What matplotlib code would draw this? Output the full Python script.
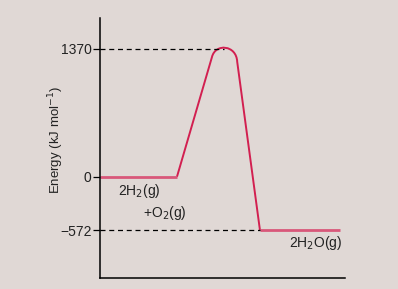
import numpy as np
import matplotlib.pyplot as plt
from matplotlib.path import Path
from matplotlib.patches import PathPatch

plt.rcParams['font.family'] = ['Liberation Sans', 'DejaVu Sans']

# energy levels (kJ/mol)
e_react = 0
e_peak = 1370
e_prod = -572
tick_vals = [1370, 0, -572]
tick_labels = ['1370', '0', '\u2212572']

# reaction coordinate positions
x_start, x_rise, x_fall, x_end = 0, 3.14, 6.53, 9.8
x_shl, x_top, x_shr = 4.57, 5.08, 5.6
e_shl, e_shr = 1280, 1230

bg = '#e0d8d5'
flat_col = '#d9577a'
slope_col = '#d21f50'

fig = plt.figure(figsize=(3.98, 2.89), dpi=100, facecolor=bg)
ax = fig.add_axes([100/398, 11/289, 245/398, 260/289])
ax.set_facecolor(bg)
ax.set_xlim(0, 10)
ax.set_ylim(-1080, 1697)

# flat levels
ax.plot([x_start, x_rise], [e_react, e_react], color=flat_col, lw=2, solid_capstyle='butt')
ax.plot([x_fall, x_end], [e_prod, e_prod], color=flat_col, lw=2, solid_capstyle='butt')

# rising and falling sides with rounded cap
verts = [(x_rise, e_react), (x_shl, e_shl),
         (x_shl + 0.14, e_shl + 150), (x_shr - 0.03, e_shr + 180), (x_shr, e_shr),
         (x_fall, e_prod)]
codes = [Path.MOVETO, Path.LINETO, Path.CURVE4, Path.CURVE4, Path.CURVE4, Path.LINETO]
ax.add_patch(PathPatch(Path(verts, codes), fill=False, edgecolor=slope_col, lw=1.4))

# dashed reference lines
ax.plot([0, x_top], [e_peak, e_peak], color='black', lw=0.9, ls=(0, (4, 3)))
ax.plot([0, x_fall], [e_prod, e_prod], color='black', lw=0.9, ls=(0, (4, 3)))

ax.set_yticks(tick_vals)
ax.set_yticklabels(tick_labels, fontsize=10, color='#222222')
ax.set_xticks([])
ax.tick_params(axis='y', direction='out', length=5, width=0.9, pad=1)
for s in ['top', 'right']:
    ax.spines[s].set_visible(False)
ax.spines['left'].set_linewidth(1.1)
ax.spines['bottom'].set_linewidth(1.1)
ax.spines['bottom'].set_bounds(0, 10)

ax.set_ylabel('Energy (kJ mol$^{-1}$)', fontsize=9.5, color='#222222')
ax.yaxis.set_label_coords(-0.14, 0.53)

ax.text(0.75, -150, '2H$_2$(g)', fontsize=10, va='center', color='#222222')
ax.text(1.75, -390, '+O$_2$(g)', fontsize=10, va='center', color='#222222')
ax.text(7.7, -710, '2H$_2$O(g)', fontsize=10, va='center', color='#222222')

fig.savefig('out.png', dpi=100, facecolor=bg)
